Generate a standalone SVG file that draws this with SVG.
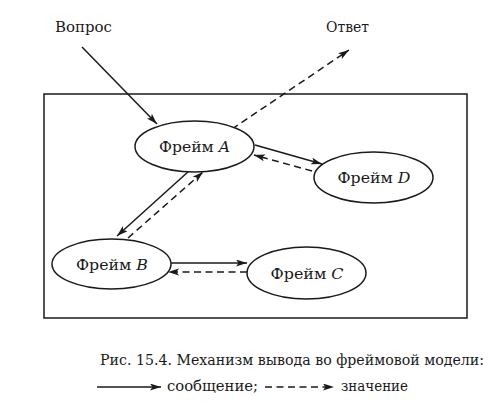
<svg xmlns="http://www.w3.org/2000/svg" width="499" height="408" viewBox="0 0 499 408" font-family="DejaVu Serif, Liberation Serif, serif">
<defs>
<marker id="ah" markerUnits="userSpaceOnUse" markerWidth="12" markerHeight="8" refX="11" refY="3.5" orient="auto">
<path d="M0,0 L11,3.5 L0,7 L2.5,3.5 z" fill="#1a1a1a"/>
</marker>
</defs>
<style>
.node ellipse{fill:#fff;stroke:#1a1a1a;stroke-width:1.5}
text{font-size:15px;fill:#1a1a1a}
.c{text-anchor:middle}
.it{font-style:italic}
.s{stroke:#1a1a1a;stroke-width:1.5;fill:none;marker-end:url(#ah)}
.d{stroke:#1a1a1a;stroke-width:1.5;fill:none;stroke-dasharray:7 4.5;marker-end:url(#ah)}
</style>
<rect width="499" height="408" fill="#fff"/>
<rect x="44" y="94" width="423" height="224" fill="none" stroke="#1a1a1a" stroke-width="1.5"/>
<text x="55" y="32" textLength="57" lengthAdjust="spacingAndGlyphs">Вопрос</text>
<text x="326" y="32" textLength="43" lengthAdjust="spacingAndGlyphs">Ответ</text>
<g id="connectors">
<line class="s" x1="82" y1="47" x2="157" y2="124"/>
<line class="d" x1="232" y1="129" x2="349" y2="50"/>
<line class="s" x1="189" y1="171" x2="117" y2="236"/>
<line class="d" x1="128" y1="238" x2="203" y2="172"/>
<line class="s" x1="255" y1="145" x2="322" y2="164"/>
<line class="d" x1="312" y1="171" x2="254" y2="155"/>
<line class="s" x1="171" y1="263" x2="247" y2="263"/>
<line class="d" x1="247" y1="272" x2="168" y2="272"/>
</g>
<g id="frameA" class="node">
<ellipse cx="194.5" cy="146.5" rx="59.5" ry="25.5"/>
<text class="c" x="194.5" y="152" textLength="71" lengthAdjust="spacingAndGlyphs">Фрейм <tspan class="it">A</tspan></text>
</g>
<g id="frameD" class="node">
<ellipse cx="373.5" cy="177.5" rx="59.5" ry="25.5"/>
<text class="c" x="374" y="183" textLength="73" lengthAdjust="spacingAndGlyphs">Фрейм <tspan class="it">D</tspan></text>
</g>
<g id="frameB" class="node">
<ellipse cx="111.5" cy="264" rx="59.5" ry="25"/>
<text class="c" x="112" y="269.5" textLength="72" lengthAdjust="spacingAndGlyphs">Фрейм <tspan class="it">B</tspan></text>
</g>
<g id="frameC" class="node">
<ellipse cx="306.5" cy="273" rx="59.5" ry="26"/>
<text class="c" x="307" y="278.5" textLength="73" lengthAdjust="spacingAndGlyphs">Фрейм <tspan class="it">C</tspan></text>
</g>
<g id="caption">
<text x="100" y="365" style="font-size:15px" textLength="384" lengthAdjust="spacingAndGlyphs">Рис. 15.4. Механизм вывода во фреймовой модели:</text>
<line class="s" x1="97" y1="387" x2="161" y2="387"/>
<text x="167" y="391" textLength="91" lengthAdjust="spacingAndGlyphs">сообщение;</text>
<line class="d" x1="265" y1="387" x2="334" y2="387"/>
<text x="341" y="391" textLength="67" lengthAdjust="spacingAndGlyphs">значение</text>
</g>
</svg>
